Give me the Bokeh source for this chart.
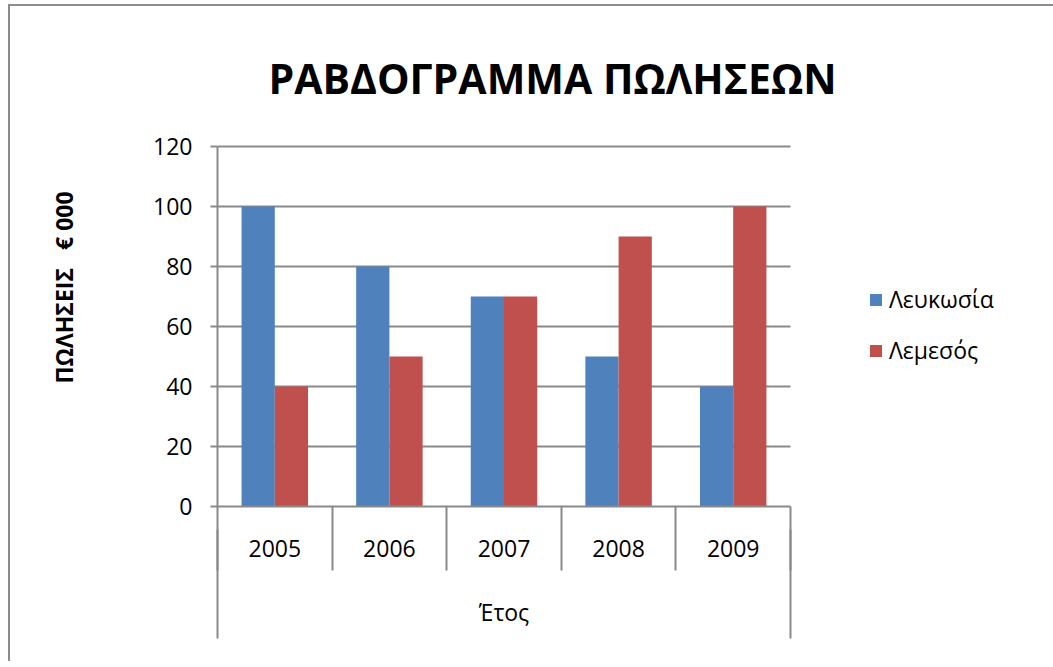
from bokeh.plotting import figure
from bokeh.models import (Range1d, FixedTicker, Legend, LegendItem,
                          Label, LinearAxis, ColumnDataSource)
from bokeh.transform import dodge
from bokeh.layouts import column
from bokeh.embed import file_html
from bokeh.resources import INLINE

# ---- data ----
years = ["2005", "2006", "2007", "2008", "2009"]
lefkosia = [100, 80, 70, 50, 40]
lemesos = [40, 50, 70, 90, 100]
y_ticks = [0, 20, 40, 60, 80, 100, 120]
series_names = ["Λευκωσία", "Λεμεσός"]
title_text = "ΡΑΒΔΟΓΡΑΜΜΑ ΠΩΛΗΣΕΩΝ"
y_label = "ΠΩΛΗΣΕΙΣ   € 000"
x_label = "Έτος"

# ---- style ----
BLUE = "#4F81BD"
RED = "#C0504D"
GRAY = "#898989"
FONT = "Open Sans"
n = len(years)
centers = [i + 0.5 for i in range(n)]   # category slot centres on a 0..n scale
FRAME_W = 825
SLOT_PX = 573 / n                         # plot area is 573 px wide

src = ColumnDataSource(dict(pos=centers, year=years, lefkosia=lefkosia, lemesos=lemesos))

p = figure(
    x_range=Range1d(0, FRAME_W / SLOT_PX),
    y_range=Range1d(0, 162),
    frame_width=FRAME_W, frame_height=486,
    min_border_left=207, min_border_right=11, min_border_top=14, min_border_bottom=155,
    output_backend="svg", toolbar_location=None, x_axis_location=None,
)
p.outline_line_color = None

# ---- y axis ----
tick = FixedTicker(ticks=y_ticks, minor_ticks=[])
ya = p.yaxis[0]
ya.ticker = tick
ya.bounds = (y_ticks[0], y_ticks[-1])
ya.axis_line_color = GRAY
ya.axis_line_width = 2
ya.major_tick_line_color = GRAY
ya.major_tick_line_width = 2
ya.major_tick_in = 0
ya.major_tick_out = 7
ya.minor_tick_line_color = None
ya.major_label_text_font = FONT
ya.major_label_text_font_size = "23px"
ya.major_label_text_color = "black"
ya.major_label_standoff = 18
ya.axis_label = y_label.replace(" ", "\u00a0") + "\u00a0" * 8
ya.axis_label_text_font = FONT
ya.axis_label_text_font_style = "bold"
ya.axis_label_text_font_size = "23px"
ya.axis_label_text_color = "black"
ya.axis_label_standoff = 70

# ---- horizontal gridlines, limited to the plot area ----
p.xgrid.visible = False
grid = p.ygrid[0]
if "cross_bounds" in grid.properties():
    grid.ticker = tick
    grid.cross_bounds = (0, n)
    grid.grid_line_color = GRAY
    grid.grid_line_width = 2
else:
    grid.visible = False
    p.segment(x0=0, x1=n, y0=y_ticks, y1=y_ticks, line_color=GRAY, line_width=2)

# ---- bars ----
r1 = p.vbar(x=dodge("pos", -0.145), top="lefkosia", width=0.29,
            source=src, fill_color=BLUE, line_color=None)
r2 = p.vbar(x=dodge("pos", 0.145), top="lemesos", width=0.29,
            source=src, fill_color=RED, line_color=None)

# ---- category axis (labels + separators between categories) ----
ax_cat = LinearAxis()
ax_cat.bounds = (0, n)
ax_cat.ticker = FixedTicker(ticks=centers, minor_ticks=list(range(n + 1)))
ax_cat.major_label_overrides = {c: y for c, y in zip(centers, years)}
ax_cat.axis_line_color = GRAY
ax_cat.axis_line_width = 2
ax_cat.major_tick_line_color = None
ax_cat.major_tick_in = 0
ax_cat.major_tick_out = 0
ax_cat.minor_tick_line_color = GRAY
ax_cat.minor_tick_line_width = 2
ax_cat.minor_tick_in = 0
ax_cat.minor_tick_out = 64
ax_cat.major_label_standoff = -31
ax_cat.major_label_text_font = FONT
ax_cat.major_label_text_font_size = "23px"
ax_cat.major_label_text_color = "black"
p.add_layout(ax_cat, "below")

# ---- group level axis ("Έτος" + outer lines) ----
ax_grp = LinearAxis()
ax_grp.bounds = (0, n)
ax_grp.ticker = FixedTicker(ticks=[n / 2], minor_ticks=[0, n])
ax_grp.major_label_overrides = {n / 2: x_label}
ax_grp.axis_line_color = None
ax_grp.major_tick_line_color = None
ax_grp.major_tick_in = 0
ax_grp.major_tick_out = 0
ax_grp.minor_tick_line_color = GRAY
ax_grp.minor_tick_line_width = 2
ax_grp.minor_tick_in = 30
ax_grp.minor_tick_out = 79
ax_grp.major_label_standoff = -43
ax_grp.major_label_text_font = FONT
ax_grp.major_label_text_font_size = "23px"
ax_grp.major_label_text_color = "black"
p.add_layout(ax_grp, "below")

# ---- title ----
p.add_layout(Label(x=2.923, y=143.0, text=title_text, text_align="center",
                   text_baseline="alphabetic", text_font=FONT, text_font_style="bold",
                   text_font_size="41px", text_color="black"))

# ---- legend ----
legend = Legend(items=[LegendItem(label=series_names[0], renderers=[r1]),
                       LegendItem(label=series_names[1], renderers=[r2])],
                location=(651, 140), orientation="vertical",
                glyph_width=15, glyph_height=15, label_standoff=6, spacing=19,
                padding=0, margin=0, border_line_color=None, background_fill_alpha=0,
                label_text_font=FONT, label_text_font_size="23px", label_text_color="black")
p.add_layout(legend)

layout = column(p, styles={"border-left": "2px solid #8c8c8c",
                           "border-top": "2px solid #8c8c8c",
                           "margin-left": "8px", "margin-top": "4px"})
open("out.html", "w").write(file_html(layout, INLINE))
